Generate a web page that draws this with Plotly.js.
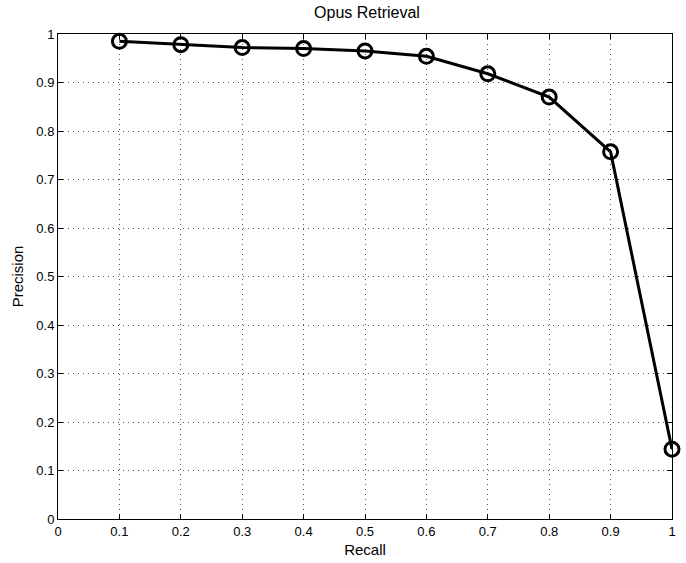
<!DOCTYPE html>
<html>
<head>
<meta charset="utf-8">
<script src="https://cdn.plot.ly/plotly-3.0.1.min.js"></script>
<style>html,body{margin:0;padding:0;background:#fff;}#chart{width:686px;height:563px;}</style>
</head>
<body>
<div id="chart"></div>
<script>
const recall = [0.1, 0.2, 0.3, 0.4, 0.5, 0.6, 0.7, 0.8, 0.9, 1.0];
const precision = [0.985, 0.978, 0.972, 0.970, 0.965, 0.954, 0.918, 0.870, 0.757, 0.144];
const xTicks = [0, 0.1, 0.2, 0.3, 0.4, 0.5, 0.6, 0.7, 0.8, 0.9, 1];
const xTickLabels = ['0', '0.1', '0.2', '0.3', '0.4', '0.5', '0.6', '0.7', '0.8', '0.9', '1'];
const yTicks = [0, 0.1, 0.2, 0.3, 0.4, 0.5, 0.6, 0.7, 0.8, 0.9, 1];
const yTickLabels = ['0', '0.1', '0.2', '0.3', '0.4', '0.5', '0.6', '0.7', '0.8', '0.9', '1'];

const font = 'Liberation Sans, Arial, Helvetica, sans-serif';
const axisCommon = {
  showline: true, linecolor: '#000', linewidth: 1, mirror: 'ticks',
  ticks: 'inside', ticklen: 5, tickwidth: 1, tickcolor: '#000',
  showgrid: true, gridcolor: '#555', griddash: '1px,4px', gridwidth: 1,
  zeroline: false, tickfont: {family: font, size: 13, color: '#000'},
  tickmode: 'array'
};
const trace = {
  x: recall, y: precision, type: 'scatter', mode: 'lines+markers',
  line: {color: '#000', width: 3},
  marker: {symbol: 'circle-open', size: 14, color: '#000', line: {width: 3, color: '#000'}},
  cliponaxis: false
};
const layout = {
  width: 686, height: 563,
  margin: {l: 57.5, r: 14, t: 33.5, b: 44},
  paper_bgcolor: '#fff', plot_bgcolor: '#fff',
  showlegend: false,
  title: {text: 'Opus Retrieval', font: {family: font, size: 16, color: '#000'}, x: 0.535, xanchor: 'center', y: 0.988, yanchor: 'top'},
  xaxis: Object.assign({}, axisCommon, {range: [0, 1], tickvals: xTicks, ticktext: xTickLabels,
    title: {text: 'Recall', font: {family: font, size: 15, color: '#000'}, standoff: 6}}),
  yaxis: Object.assign({}, axisCommon, {range: [0, 1], tickvals: yTicks, ticktext: yTickLabels,
    title: {text: 'Precision', font: {family: font, size: 15, color: '#000'}, standoff: 9}})
};
Plotly.newPlot('chart', [trace], layout, {displayModeBar: false, staticPlot: true});
</script>
</body>
</html>
